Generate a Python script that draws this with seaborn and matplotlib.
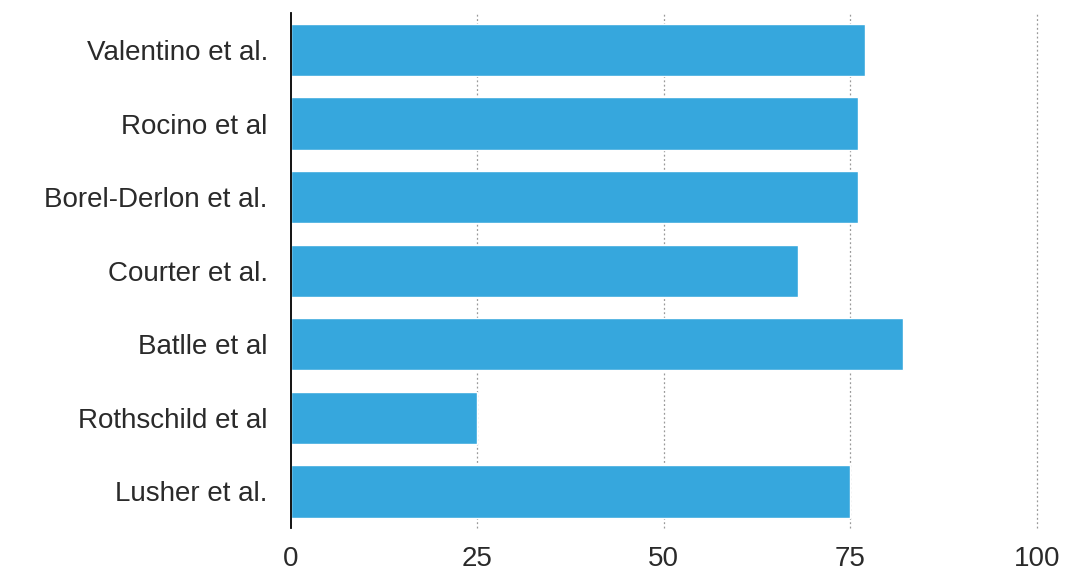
import matplotlib
matplotlib.use("Agg")
import matplotlib.pyplot as plt
import seaborn as sns
import pandas as pd

studies = ["Valentino et al.", "Rocino et al", "Borel-Derlon et al.", "Courter et al.",
           "Batlle et al", "Rothschild et al", "Lusher et al."]
values = [77, 76, 76, 68, 82, 25, 75]
x_ticks = [0, 25, 50, 75, 100]

sns.set_theme(style="white")
plt.rcParams["font.family"] = ["Liberation Sans", "DejaVu Sans"]

df = pd.DataFrame({"study": studies, "value": values})

fig = plt.figure(figsize=(10.69, 5.76), dpi=100)
ax = fig.add_axes([0.272, 0.083, 0.698, 0.894])

sns.barplot(data=df, x="value", y="study", orient="h", color="#36a7dd",
            saturation=1, width=0.71, ax=ax, zorder=2)

ax.set_xlim(0, 100)
ax.set_ylim(6.5, -0.5)
ax.set_xticks(x_ticks)
ax.set_xticklabels([str(t) for t in x_ticks])
for t in x_ticks[1:]:
    ax.axvline(t, color="#999999", linestyle=(0, (1.5, 2)), linewidth=0.9,
               zorder=1, clip_on=False)

for s in ["top", "right", "bottom"]:
    ax.spines[s].set_visible(False)
ax.spines["left"].set_color("black")
ax.spines["left"].set_linewidth(1.3)
ax.spines["left"].set_zorder(3)

ax.tick_params(axis="y", length=0, pad=16.5, labelsize=20, labelcolor="#2a2a2a")
ax.tick_params(axis="x", length=0, pad=13, labelsize=20, labelcolor="#2a2a2a")
ax.set_xlabel("")
ax.set_ylabel("")

fig.savefig("out.png", dpi=100)
